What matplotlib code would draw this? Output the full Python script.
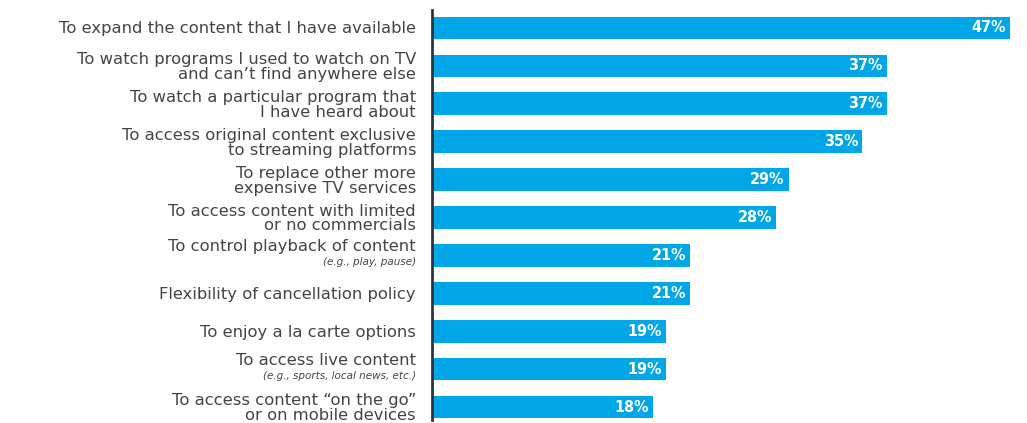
import matplotlib
matplotlib.use("Agg")
import matplotlib.pyplot as plt
from matplotlib.transforms import offset_copy, blended_transform_factory

categories = [
    "To expand the content that I have available",
    "To watch programs I used to watch on TV\nand can\u2019t find anywhere else",
    "To watch a particular program that\nI have heard about",
    "To access original content exclusive\nto streaming platforms",
    "To replace other more\nexpensive TV services",
    "To access content with limited\nor no commercials",
    "To control playback of content",
    "Flexibility of cancellation policy",
    "To enjoy a la carte options",
    "To access live content",
    "To access content \u201con the go\u201d\nor on mobile devices",
]
notes = ["", "", "", "", "", "", "(e.g., play, pause)", "", "", "(e.g., sports, local news, etc.)", ""]
values = [47, 37, 37, 35, 29, 28, 21, 21, 19, 19, 18]
value_labels = ["47%", "37%", "37%", "35%", "29%", "28%", "21%", "21%", "19%", "19%", "18%"]

W, H = 1027, 423
fig = plt.figure(figsize=(W / 100, H / 100), dpi=100)
left_px, top_px, bot_px = 432, 10, 420
ax = fig.add_axes([left_px / W, 1 - bot_px / H, 1 - left_px / W, (bot_px - top_px) / H])

bar_color = "#00A6E6"
n = len(values)
ypos = list(range(n))
ax.barh(ypos, values, height=0.6, color=bar_color)

px_per_pct = (1010 - 432) / 47
ax.set_xlim(0, (W - left_px) / px_per_pct)
spacing = 37.9
top_units = (28 - top_px) / spacing
ax.set_ylim(-top_units + (bot_px - top_px) / spacing, -top_units)

for s in ["top", "right", "bottom"]:
    ax.spines[s].set_visible(False)
ax.spines["left"].set_color("#2b3440")
ax.spines["left"].set_linewidth(2)
ax.set_xticks([])
ax.set_yticks([])

trans = blended_transform_factory(ax.transAxes, ax.transData)
text_color = "#444444"
fam = "DejaVu Sans"
for i, (cat, note) in enumerate(zip(categories, notes)):
    if note:
        t1 = offset_copy(trans, fig=fig, x=-16, y=9, units="dots")
        ax.text(0, i, cat, transform=t1, ha="right", va="center",
                fontsize=11.8, color=text_color, family=fam)
        t2 = offset_copy(trans, fig=fig, x=-16, y=-7, units="dots")
        ax.text(0, i, note, transform=t2, ha="right", va="center",
                fontsize=7.5, style="italic", color=text_color, family=fam)
    else:
        t1 = offset_copy(trans, fig=fig, x=-16, y=-1, units="dots")
        ax.text(0, i, cat, transform=t1, ha="right", va="center",
                fontsize=11.8, color=text_color, family=fam,
                linespacing=1.0, multialignment="right")

for i, (v, lab) in enumerate(zip(values, value_labels)):
    t = offset_copy(ax.transData, fig=fig, x=-4, y=0, units="dots")
    ax.text(v, i, lab, transform=t, ha="right", va="center",
            fontsize=11.5, fontweight="bold", color="white",
            family="DejaVu Sans", fontstretch="condensed")

fig.savefig("out.png", dpi=100, facecolor="white")
